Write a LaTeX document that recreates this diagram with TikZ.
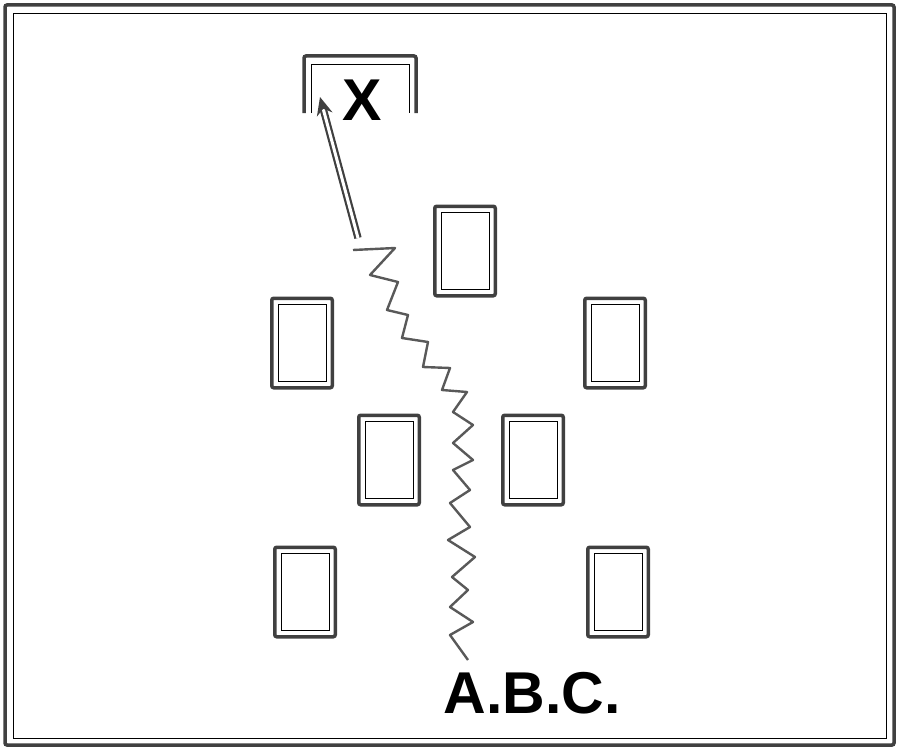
\documentclass[tikz,border=0pt]{standalone}
\usepackage{fontspec}
\setmainfont{Liberation Sans}
\usetikzlibrary{arrows.meta,positioning}

\begin{document}
\begin{tikzpicture}[x = 1pt, y = -1pt,
  wall/.style = {line width = 3.5pt, draw = black!75, rounded corners = 2pt},
  rim/.style = {line width = .8pt},
  seat/.style = {wall, minimum width = 60.5pt, minimum height = 89.5pt, inner sep = 0pt},
  walk/.style = {line width = 2.4pt, draw = black!65, line join = round},
  lbl/.style = {font = \fontsize{59}{59}\selectfont\bfseries, inner sep = 0pt}]
\useasboundingbox (0, 0) rectangle (900, 752);

% room
\draw[wall] (5, 5) rectangle (894, 745);
\draw[rim] (13, 13) rectangle (886, 738);

% doorway with the target
\draw[wall] (304, 113) -- (304, 56) -- (416, 56) -- (416, 113);
\draw[rim] (311, 113) -- (311, 64) -- (409, 64) -- (409, 113);
\node[lbl] (x) at (362, 100) {X};

% seats
\node[seat] (t) at (465, 251) {};
\node[seat] (l) at (302, 343) {};
\node[seat] (r) at (615, 343) {};
\node[seat] (ml) at (389, 460) {};
\node[seat] (mr) at (533, 460) {};
\node[seat] (bl) at (305, 592) {};
\node[seat] (br) at (618, 592) {};

\foreach \s in {t, l, r, ml, mr, bl, br}
  \draw[rim] ([shift = {(8, 8)}]\s.north west) rectangle ([shift = {(-8, -8)}]\s.south east);

% the walk
\node[lbl] (abc) at (532, 693) {A.B.C.};
\coordinate (start) at (468, 660);
\coordinate (turn) at (353, 250);
\coordinate (tail) at (358, 238);
\coordinate (tip) at (320, 97);

\draw[walk] (start) -- (450, 635) -- (473, 622) -- (450, 607) -- (468, 590)
  -- (452, 577) -- (475, 557) -- (448, 540) -- (470, 527) -- (450, 503)
  -- (470, 490) -- (453, 470) -- (473, 460) -- (453, 443) -- (473, 425)
  -- (453, 412) -- (467, 392) -- (442, 390) -- (450, 368) -- (423, 367)
  -- (428, 342) -- (402, 338) -- (408, 315) -- (387, 310) -- (398, 282)
  -- (370, 275) -- (395, 248) -- (turn);

\draw[line width = 2.2pt, draw = black!75, double, double distance = 3pt,
  -{Stealth[length = 18pt, width = 16pt]}] (tail) -- (tip);

\end{tikzpicture}
\end{document}
